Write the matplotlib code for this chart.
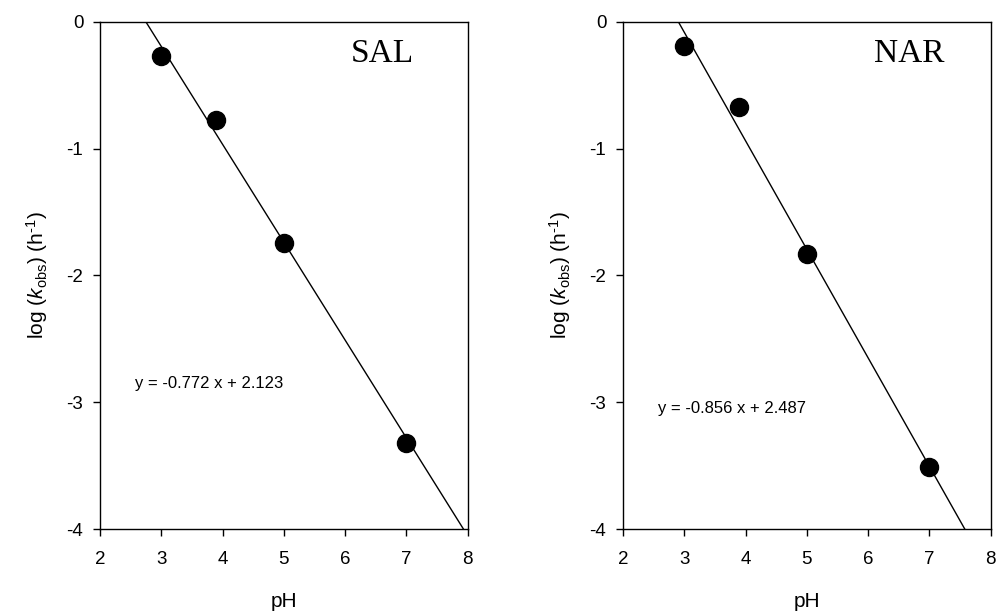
import matplotlib.pyplot as plt
import numpy as np

plt.rcParams['font.family'] = 'Liberation Sans'
plt.rcParams['mathtext.fontset'] = 'custom'
plt.rcParams['mathtext.rm'] = 'Liberation Sans'
plt.rcParams['mathtext.it'] = 'Liberation Sans:italic'
plt.rcParams['axes.unicode_minus'] = False

# data
ph = [3, 3.9, 5, 7]
sal_logk = [-0.27, -0.77, -1.74, -3.32]
nar_logk = [-0.19, -0.67, -1.83, -3.51]

sal_fit = (-0.772, 2.123)
nar_fit = (-0.856, 2.487)

panels = [
    ('SAL', sal_logk, sal_fit, -2.85),
    ('NAR', nar_logk, nar_fit, -3.05),
]

fig = plt.figure(figsize=(9.99, 6.15), dpi=100)
lefts = [0.1001, 0.6236]

for left, (name, logk, fit, eq_y) in zip(lefts, panels):
    ax = fig.add_axes([left, 0.1398, 0.368, 0.8245])
    slope, icpt = fit
    xx = np.array([2.0, 8.0])
    ax.plot(xx, slope * xx + icpt, color='black', lw=1.0)
    ax.plot(ph, logk, 'o', color='black', ms=13)

    ax.set_xlim(2, 8)
    ax.set_ylim(-4, 0)
    ax.set_xticks(range(2, 9))
    ax.set_yticks(range(-4, 1))
    ax.tick_params(direction='out', length=5, width=1, labelsize=13.5)
    ax.tick_params(axis='x', pad=11)
    ax.tick_params(axis='y', pad=7)
    for s in ax.spines.values():
        s.set_linewidth(1.0)

    ax.set_xlabel('pH', fontsize=15, labelpad=17)
    ax.set_ylabel(r'log ($k_{\mathrm{obs}}$) (h$^{\text{-1}}$)', fontsize=15, labelpad=12)

    ax.text(6.1, -0.25, name, fontsize=24, family='Liberation Serif',
            ha='left', va='center')
    ax.text(2.57, eq_y, 'y = %.3f x + %.3f' % (slope, icpt),
            fontsize=12, ha='left', va='center')

fig.savefig('out.png', dpi=100)
